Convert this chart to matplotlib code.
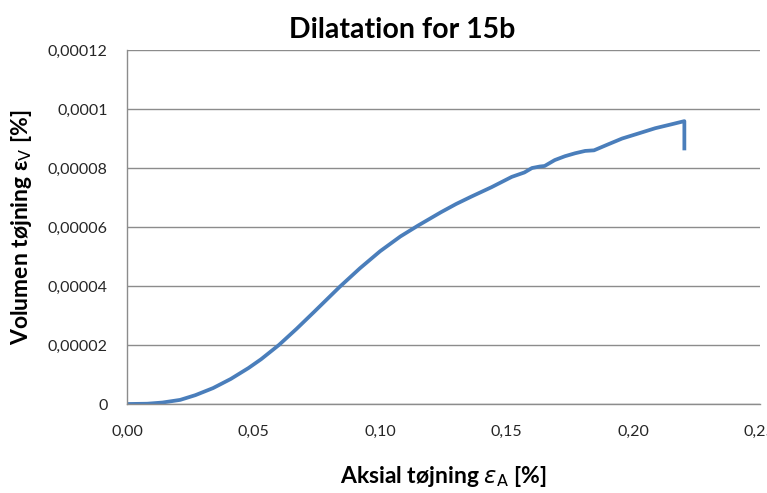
import matplotlib
matplotlib.use("Agg")
import matplotlib.pyplot as plt

# aksial tøjning [%] og volumen tøjning [%]
eps_a = [0, 0.008, 0.014, 0.021, 0.027, 0.034, 0.041, 0.048, 0.053, 0.060,
         0.067, 0.074, 0.084, 0.092, 0.100, 0.108, 0.115, 0.124, 0.130, 0.136,
         0.144, 0.152, 0.157, 0.160, 0.163, 0.165, 0.169, 0.173, 0.177, 0.181,
         0.1845, 0.190, 0.1956, 0.202, 0.2087, 0.215, 0.2202, 0.2202]
eps_v = [0, 0.01e-5, 0.05e-5, 0.14e-5, 0.30e-5, 0.54e-5, 0.85e-5, 1.22e-5, 1.52e-5, 2.0e-5,
         2.55e-5, 3.13e-5, 3.97e-5, 4.6e-5, 5.18e-5, 5.68e-5, 6.05e-5, 6.5e-5, 6.78e-5, 7.03e-5,
         7.35e-5, 7.7e-5, 7.85e-5, 8.0e-5, 8.05e-5, 8.07e-5, 8.27e-5, 8.4e-5, 8.5e-5, 8.58e-5,
         8.6e-5, 8.8e-5, 9.0e-5, 9.17e-5, 9.35e-5, 9.48e-5, 9.59e-5, 8.6e-5]

x_ticks = [0, 0.05, 0.10, 0.15, 0.20, 0.25]
x_labels = ["0,00", "0,05", "0,10", "0,15", "0,20", "0,25"]
y_ticks = [0, 0.00002, 0.00004, 0.00006, 0.00008, 0.0001, 0.00012]
y_labels = ["0", "0,00002", "0,00004", "0,00006", "0,00008", "0,0001", "0,00012"]

plt.rcParams["font.family"] = ["Lato", "DejaVu Sans"]

fig = plt.figure(figsize=(7.67, 4.93), dpi=100)
ax = fig.add_axes([0.1656, 0.1805, 0.825, 0.718])

ax.plot(eps_a, eps_v, color="#4A7EBB", linewidth=2.7, solid_capstyle="butt",
        solid_joinstyle="round")

ax.set_xlim(0, 0.25)
ax.set_ylim(0, 0.00012)
ax.set_xticks(x_ticks)
ax.set_xticklabels(x_labels)
ax.set_yticks(y_ticks)
ax.set_yticklabels(y_labels)
ax.tick_params(length=0, labelsize=11.5, colors="#262626")
ax.tick_params(axis="y", pad=14)
ax.tick_params(axis="x", pad=15)

ax.grid(axis="y", color="#8c8c8c", linewidth=1)
ax.set_axisbelow(True)
for side in ["top", "right"]:
    ax.spines[side].set_visible(False)
for side in ["left", "bottom"]:
    ax.spines[side].set_color("#8c8c8c")
    ax.spines[side].set_linewidth(1)

fig.text(0.525, 0.94, "Dilatation for 15b", ha="center", va="center",
         fontsize=20.5, fontweight="bold")
ax.set_xlabel(r"Aksial tøjning $\varepsilon_{\mathrm{A}}$ [%]", fontsize=16.5,
              fontweight="bold", labelpad=18)
ax.set_ylabel(r"Volumen tøjning ε$_{\mathrm{V}}$ [%]", fontsize=16.5,
              fontweight="bold", labelpad=10)

fig.savefig("out.png", dpi=100)
